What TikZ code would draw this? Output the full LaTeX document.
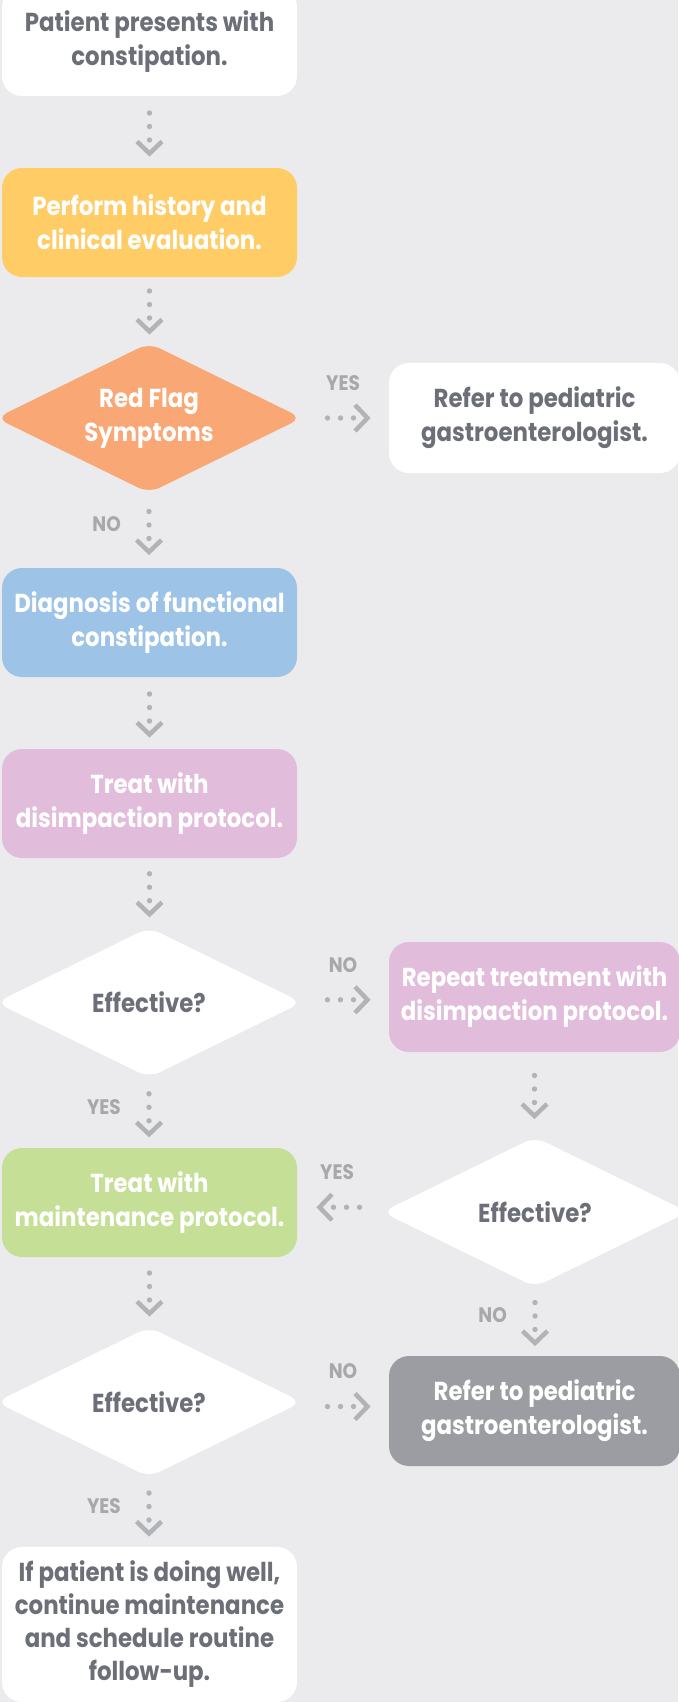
\documentclass[tikz,border=0pt]{standalone}
\usepackage{fontspec}
\setmainfont{Poppins}[FakeStretch=0.88]
\usetikzlibrary{shapes.geometric,calc}
\definecolor{bgc}{RGB}{235,235,237}
\definecolor{tgray}{RGB}{108,111,119}
\definecolor{lgray}{RGB}{167,168,172}
\definecolor{agray}{RGB}{178,179,183}
\definecolor{cyellow}{RGB}{255,204,102}
\definecolor{corange}{RGB}{249,167,116}
\definecolor{cblue}{RGB}{157,195,230}
\definecolor{cpink}{RGB}{226,188,219}
\definecolor{cgreen}{RGB}{197,223,151}
\definecolor{cgraybox}{RGB}{155,157,163}
\tikzset{
  mainfont/.style={font=\bfseries\fontsize{26}{34}\selectfont},
  stepbox/.style={rectangle, rounded corners=20pt, minimum width=295pt, minimum height=109pt,
    align=center, inner sep=0pt, mainfont},
  sidebox/.style={stepbox, minimum width=291pt, minimum height=110pt},
  decision/.style={diamond, rounded corners=12pt, minimum width=306pt, minimum height=150pt,
    aspect=2, inner sep=0pt, align=center, mainfont},
  lbl/.style={text=lgray, font=\bfseries\fontsize{21}{24}\selectfont, inner sep=0pt},
  dotc/.style={fill=agray},
  chev/.style={draw=agray, line width=4.5pt, line cap=butt, line join=miter},
}
\newcommand\vlink[3]{%
  \path let \p1=(#1.south), \p2=(#2.north) in coordinate (tmp) at (\x1,{(\y1+\y2)/2});
  \fill[dotc] ($(tmp)+(0,-19)$) circle (2.7pt) ($(tmp)+(0,-5.5)$) circle (2.7pt) ($(tmp)+(0,8)$) circle (2.7pt);
  \draw[chev] ($(tmp)+(-12.5,9.5)$) -- ($(tmp)+(0,21.5)$) -- ($(tmp)+(12.5,9.5)$);
  \node[lbl, anchor=east] at ($(tmp)+(-28,-6)$) {#3};
}
\newcommand\rlink[3]{%
  \path let \p1=(#1.east), \p2=(#2.west) in coordinate (tmp) at ({(\x1+\x2)/2},{(\y1+\y2)/2});
  \fill[dotc] ($(tmp)+(-18,0)$) circle (2.7pt) ($(tmp)+(-5,0)$) circle (2.7pt) ($(tmp)+(8,0)$) circle (2.7pt);
  \draw[chev] ($(tmp)+(9.5,-13)$) -- ($(tmp)+(22,0)$) -- ($(tmp)+(9.5,13)$);
  \node[lbl] at ($(tmp)+(-2.5,-35)$) {#3};
}
\newcommand\llink[3]{%
  \path let \p1=(#1.west), \p2=(#2.east) in coordinate (tmp) at ({(\x1+\x2)/2},{(\y1+\y2)/2});
  \fill[dotc] ($(tmp)+(20,0)$) circle (2.7pt) ($(tmp)+(7,0)$) circle (2.7pt) ($(tmp)+(-6,0)$) circle (2.7pt);
  \draw[chev] ($(tmp)+(-7.5,-13)$) -- ($(tmp)+(-20,0)$) -- ($(tmp)+(-7.5,13)$);
  \node[lbl] at ($(tmp)+(-2.5,-35)$) {#3};
}
\begin{document}
\begin{tikzpicture}[x=1pt,y=-1pt]
\fill[bgc] (0,0) rectangle (678,1702);
\useasboundingbox (0,0) rectangle (678,1702);

\node[stepbox, fill=white, text=tgray] (n1) at (149.5,41.5) {Patient presents with\\constipation.};
\node[stepbox, fill=cyellow, text=white] (n2) at (149.5,222.5) {Perform history and\\clinical evaluation.};
\node[decision, fill=corange, text=white] (d1) at (149,418) {Red Flag\\Symptoms};
\node[sidebox, fill=white, text=tgray] (r1) at (534.5,418) {Refer to pediatric\\gastroenterologist.};
\node[stepbox, fill=cblue, text=white] (n3) at (149.5,622.5) {Diagnosis of functional\\constipation.};
\node[stepbox, fill=cpink, text=white] (n4) at (149.5,803.5) {Treat with\\disimpaction protocol.};
\node[decision, fill=white, text=tgray] (d2) at (149,1002.5) {Effective?};
\node[sidebox, fill=cpink, text=white] (r2) at (534.5,997) {Repeat treatment with\\disimpaction protocol.};
\node[decision, fill=white, text=tgray] (d4) at (535,1212) {Effective?};
\node[stepbox, fill=cgreen, text=white] (n5) at (149.5,1202.5) {Treat with\\maintenance protocol.};
\node[decision, fill=white, text=tgray] (d3) at (149,1402) {Effective?};
\node[sidebox, fill=cgraybox, text=white] (r3) at (534.5,1411) {Refer to pediatric\\gastroenterologist.};
\node[stepbox, fill=white, text=tgray, minimum height=155pt, font=\bfseries\fontsize{26}{33}\selectfont] (n6) at (149.5,1624.5)
  {If patient is doing well,\\continue maintenance\\and schedule routine\\follow-up.};

\vlink{n1}{n2}{}
\vlink{n2}{d1}{}
\rlink{d1}{r1}{YES}
\vlink{d1}{n3}{NO}
\vlink{n3}{n4}{}
\vlink{n4}{d2}{}
\rlink{d2}{r2}{NO}
\vlink{d2}{n5}{YES}
\vlink{r2}{d4}{}
\llink{d4}{n5}{YES}
\vlink{d4}{r3}{NO}
\vlink{n5}{d3}{}
\rlink{d3}{r3}{NO}
\vlink{d3}{n6}{YES}
\end{tikzpicture}
\end{document}
